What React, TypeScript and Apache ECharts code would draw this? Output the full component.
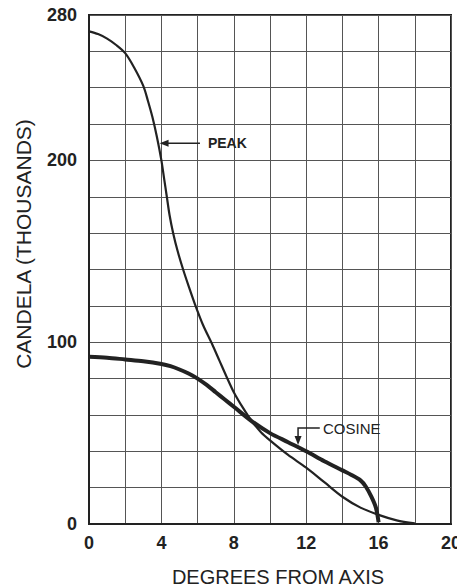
import React, { useEffect, useRef } from "react";
import * as echarts from "echarts";

// ---- data ----
const xLabelValues = [0, 4, 8, 12, 16, 20];
const yLabelValues = [0, 100, 200, 280];

const peakX = [0, 0.5, 1, 1.5, 2, 2.5, 3, 3.25, 3.5, 3.75, 4, 4.15, 4.3, 4.45, 4.65, 4.9, 5.2, 5.5, 5.85, 6.3, 6.8, 7.2, 7.6, 8, 8.5, 9, 9.5, 10, 11, 12, 13, 14, 15, 16, 17, 18];
const peakY = [271, 269.5, 267, 263.5, 259, 251, 241, 233, 224, 213, 200, 190, 180, 170, 160, 150, 140, 131, 121, 109.5, 99, 90, 81, 72.5, 64, 56.5, 50.5, 46, 38, 31, 23, 15, 9, 5, 2, 0.3];

const cosineX = [0, 1, 2, 3, 4, 4.5, 5, 5.5, 6, 6.5, 7, 7.5, 8, 9, 10, 11, 12, 13, 14, 14.5, 15, 15.3, 15.6, 15.85, 16];
const cosineY = [92, 91.5, 90.5, 89.5, 88, 86.8, 85, 82.8, 80, 76.5, 72.5, 68.5, 64.5, 56.5, 50, 45, 40, 34.5, 29.5, 27, 24, 20.5, 15, 9, 1];

const xTitle = "DEGREES FROM AXIS";
const yTitle = "CANDELA (THOUSANDS)";
const peakText = "PEAK";
const cosineText = "COSINE";

// annotation anchors in data units
const peakArrowTip = [3.9, 209.5];
const peakArrowEnd = [6.13, 209.5];
const peakTextAt = [6.57, 209.5];
const cosineCorner = [11.55, 52.8];
const cosineTip = [11.55, 43.5];
const cosineLineEnd = [12.75, 52.8];
const cosineTextAt = [12.93, 52.8];

const FONT = "'Liberation Sans', Arial, Helvetica, sans-serif";
const INK = "#222";

export default function App() {
  const ref = useRef<HTMLDivElement>(null);

  useEffect(() => {
    if (!ref.current) return;
    const chart = echarts.init(ref.current, null, { renderer: "svg" });
    const peak = peakX.map((x, i) => [x, peakY[i]]);
    const cosine = cosineX.map((x, i) => [x, cosineY[i]]);

    chart.setOption({
      animation: false,
      backgroundColor: "#fff",
      grid: {
        left: 89,
        top: 15,
        width: 362,
        height: 509,
        containLabel: false,
        outerBoundsMode: "none",
        show: true,
        borderColor: INK,
        borderWidth: 2,
        backgroundColor: "transparent",
      },
      xAxis: {
        type: "value",
        min: 0,
        max: 20,
        interval: 2,
        axisLine: { show: true, lineStyle: { color: INK, width: 2 } },
        axisTick: { show: false },
        splitLine: { show: true, lineStyle: { color: "#555", width: 1 } },
        axisLabel: {
          margin: 10,
          color: INK,
          fontFamily: FONT,
          fontSize: 18,
          fontWeight: 600,
          formatter: (v: number) => (xLabelValues.includes(v) ? String(v) : ""),
        },
      },
      yAxis: {
        type: "value",
        min: 0,
        max: 280,
        interval: 20,
        axisLine: { show: true, lineStyle: { color: INK, width: 2 } },
        axisTick: { show: false },
        splitLine: { show: true, lineStyle: { color: "#555", width: 1 } },
        axisLabel: {
          margin: 12,
          color: INK,
          fontFamily: FONT,
          fontSize: 18,
          fontWeight: 600,
          formatter: (v: number) => (yLabelValues.includes(v) ? String(v) : ""),
        },
      },
      series: [
        {
          name: "Peak",
          type: "line",
          data: peak,
          smooth: 0.3,
          showSymbol: false,
          lineStyle: { color: INK, width: 2.2 },
          z: 3,
        },
        {
          name: "Cosine",
          type: "line",
          data: cosine,
          smooth: 0.3,
          showSymbol: false,
          lineStyle: { color: INK, width: 4 },
          z: 4,
        },
      ],
    });

    const px = (p: number[]) => chart.convertToPixel({ seriesIndex: 0 }, p) as number[];
    const a = px(peakArrowTip);
    const b = px(peakArrowEnd);
    const t = px(peakTextAt);
    const c = px(cosineCorner);
    const d = px(cosineTip);
    const e = px(cosineLineEnd);
    const f = px(cosineTextAt);

    chart.setOption({
      graphic: [
        {
          type: "text",
          x: 278,
          y: 577,
          style: {
            text: xTitle,
            font: `500 20px ${FONT}`,
            fill: INK,
            textAlign: "center",
            textVerticalAlign: "middle",
          },
        },
        {
          type: "text",
          x: 23,
          y: 244,
          rotation: Math.PI / 2,
          style: {
            text: yTitle,
            font: `500 21px ${FONT}`,
            fill: INK,
            textAlign: "center",
            textVerticalAlign: "middle",
          },
        },
        {
          type: "line",
          shape: { x1: a[0] + 6, y1: a[1], x2: b[0], y2: b[1] },
          style: { stroke: INK, lineWidth: 1.5 },
          z: 10,
        },
        {
          type: "polygon",
          shape: { points: [[a[0], a[1]], [a[0] + 9, a[1] - 3.5], [a[0] + 9, a[1] + 3.5]] },
          style: { fill: INK },
          z: 10,
        },
        {
          type: "text",
          x: t[0],
          y: t[1],
          style: {
            text: peakText,
            font: `bold 14px ${FONT}`,
            fill: INK,
            textAlign: "left",
            textVerticalAlign: "middle",
          },
          z: 10,
        },
        {
          type: "polyline",
          shape: { points: [[e[0], e[1]], [c[0], c[1]], [d[0], d[1] - 7]] },
          style: { stroke: INK, lineWidth: 1.5, fill: "none" },
          z: 10,
        },
        {
          type: "polygon",
          shape: { points: [[d[0], d[1]], [d[0] - 3.5, d[1] - 9], [d[0] + 3.5, d[1] - 9]] },
          style: { fill: INK },
          z: 10,
        },
        {
          type: "text",
          x: f[0],
          y: f[1],
          style: {
            text: cosineText,
            font: `500 15px ${FONT}`,
            fill: INK,
            textAlign: "left",
            textVerticalAlign: "middle",
          },
          z: 10,
        },
      ],
    });

    return () => chart.dispose();
  }, []);

  return (
    <div
      ref={ref}
      style={{ position: "fixed", left: 0, top: 0, width: 457, height: 587, background: "#fff" }}
    />
  );
}
